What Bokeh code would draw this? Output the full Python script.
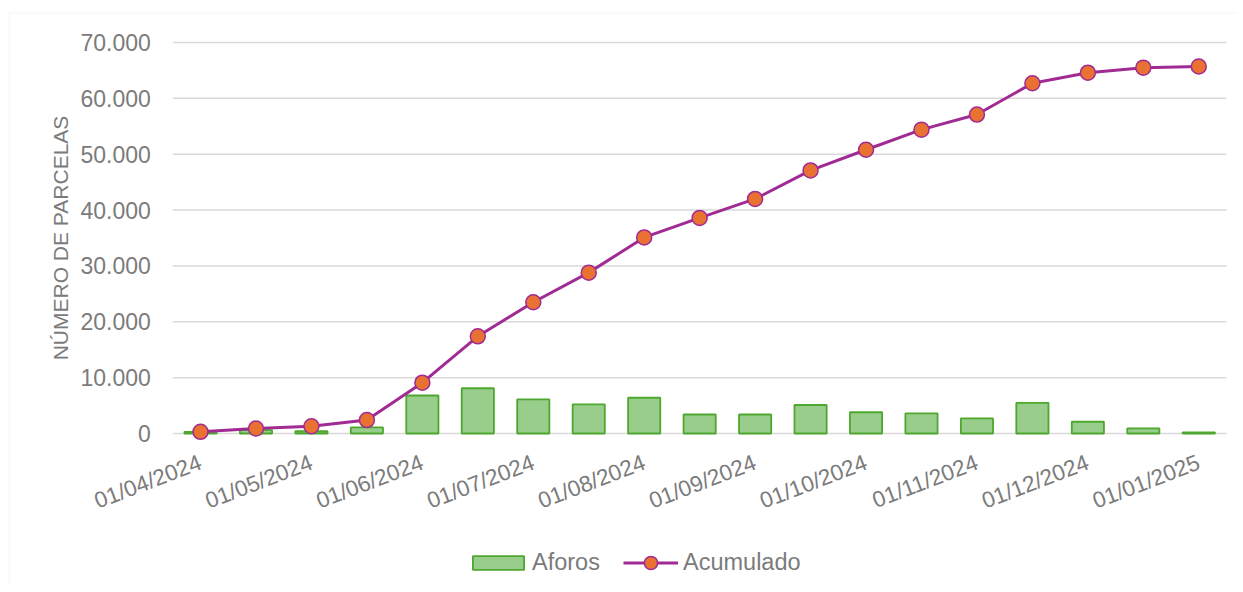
from bokeh.plotting import figure
from bokeh.models import (Range1d, FixedTicker, Legend, LegendItem, ColumnDataSource, Label, BoxAnnotation)
from bokeh.embed import file_html
from bokeh.resources import INLINE
from math import radians, pi

dates = ["01/04/2024", "15/04/2024", "01/05/2024", "15/05/2024", "01/06/2024", "15/06/2024",
         "01/07/2024", "15/07/2024", "01/08/2024", "15/08/2024", "01/09/2024", "15/09/2024",
         "01/10/2024", "15/10/2024", "01/11/2024", "15/11/2024", "01/12/2024", "15/12/2024",
         "01/01/2025"]
aforos = [300, 600, 400, 1100, 6800, 8100, 6100, 5200, 6400, 3400, 3400, 5100,
          3800, 3600, 2700, 5500, 2100, 900, 200]
acumulado = [300, 900, 1300, 2400, 9100, 17400, 23500, 28800, 35100, 38600, 42000, 47100,
             50800, 54400, 57100, 62700, 64600, 65500, 65700]
y_ticks = [0, 10000, 20000, 30000, 40000, 50000, 60000, 70000]
y_labels = ["0", "10.000", "20.000", "30.000", "40.000", "50.000", "60.000", "70.000"]
y_title = "NÚMERO DE PARCELAS"

n = len(dates)
idx = list(range(n))
src = ColumnDataSource(dict(x=idx, aforos=aforos, acum=acumulado))

FONT = "Liberation Sans"
GRAY = "#7b7b7b"

# ---- layout (pixels) ----
W, H = 1236, 584
PLOT_L, PLOT_R = 172.3, 1226.0      # plot area left/right edge (px)
PLOT_T, PLOT_B = 42.0, 433.0        # y of top tick / zero line (px)
UNIT = (PLOT_R - PLOT_L) / n        # px per category
YMAX = y_ticks[-1]

def xd(px):
    return -0.5 + (px - PLOT_L) / UNIT

def yd(px):
    return (PLOT_B - px) * YMAX / (PLOT_B - PLOT_T)

# the frame covers the whole canvas so that nothing is clipped
p = figure(width=W, height=H, output_backend="svg", toolbar_location=None,
           x_range=Range1d(xd(0), xd(W)), y_range=Range1d(yd(H), yd(0)),
           min_border_left=0, min_border_right=0, min_border_top=0, min_border_bottom=0)
p.outline_line_color = None
p.background_fill_color = "white"
p.border_fill_color = "white"

# horizontal gridlines across the plot area only
p.segment(x0=[-0.5] * len(y_ticks), x1=[n - 0.5] * len(y_ticks), y0=y_ticks, y1=y_ticks,
          line_color="#d9d9d9", line_width=1.5, level="underlay")

bars = p.vbar(x="x", top="aforos", width=0.58, source=src,
              fill_color="#98cd8b", line_color="#4ea72e", line_width=1.8)
line = p.line(x="x", y="acum", source=src, line_color="#a02b93", line_width=3)
pts = p.scatter(x="x", y="acum", source=src, size=15, fill_color="#e97132",
                line_color="#a02b93", line_width=1.5)

# y axis at the left edge of the plot area
p.yaxis.fixed_location = -0.5
p.yaxis.ticker = FixedTicker(ticks=y_ticks)
p.yaxis.major_label_overrides = {t: l for t, l in zip(y_ticks, y_labels)}
p.yaxis.major_label_text_font = FONT
p.yaxis.major_label_text_font_size = "23px"
p.yaxis.major_label_text_color = GRAY
p.yaxis.major_label_standoff = 16
p.yaxis.axis_line_color = None
p.yaxis.major_tick_line_color = None
p.yaxis.minor_tick_line_color = None

p.add_layout(Label(x=60, x_units="screen", y=YMAX / 2, y_units="data", text=y_title,
                   angle=pi / 2, text_align="center", text_baseline="middle",
                   text_font=FONT, text_font_size="21px", text_color=GRAY))

# x axis at value 0
p.xaxis.fixed_location = 0
p.xaxis.ticker = FixedTicker(ticks=idx[::2])
p.xaxis.major_label_overrides = {i: dates[i] for i in idx[::2]}
p.xaxis.major_label_orientation = radians(21)
p.xaxis.major_label_text_font = FONT
p.xaxis.major_label_text_font_size = "22.5px"
p.xaxis.major_label_text_color = GRAY
p.xaxis.major_label_standoff = 22
p.xaxis.axis_line_color = None
p.xaxis.major_tick_line_color = None
p.xaxis.minor_tick_line_color = None

p.xgrid.grid_line_color = None
p.ygrid.grid_line_color = None

leg_common = dict(orientation="horizontal", label_text_font=FONT, label_text_font_size="23.5px",
                  label_text_color=GRAY, border_line_color=None, background_fill_alpha=0,
                  padding=0, margin=0)
leg1 = Legend(items=[LegendItem(label="Aforos", renderers=[bars])], location=(466, 8.5),
              glyph_width=64, glyph_height=17, label_standoff=2, **leg_common)
leg2 = Legend(items=[LegendItem(label="Acumulado", renderers=[line, pts])], location=(623, 5.5),
              glyph_width=55, glyph_height=33, label_standoff=5, **leg_common)
p.add_layout(leg1, "center")
p.add_layout(leg2, "center")

# light outer chart border
p.add_layout(BoxAnnotation(left=xd(8.5), right=xd(W + 20), top=yd(12.5), bottom=yd(H + 20),
                           fill_alpha=0, line_color="#d9d9d9", line_width=1))

open("out.html", "w").write(file_html(p, INLINE))
